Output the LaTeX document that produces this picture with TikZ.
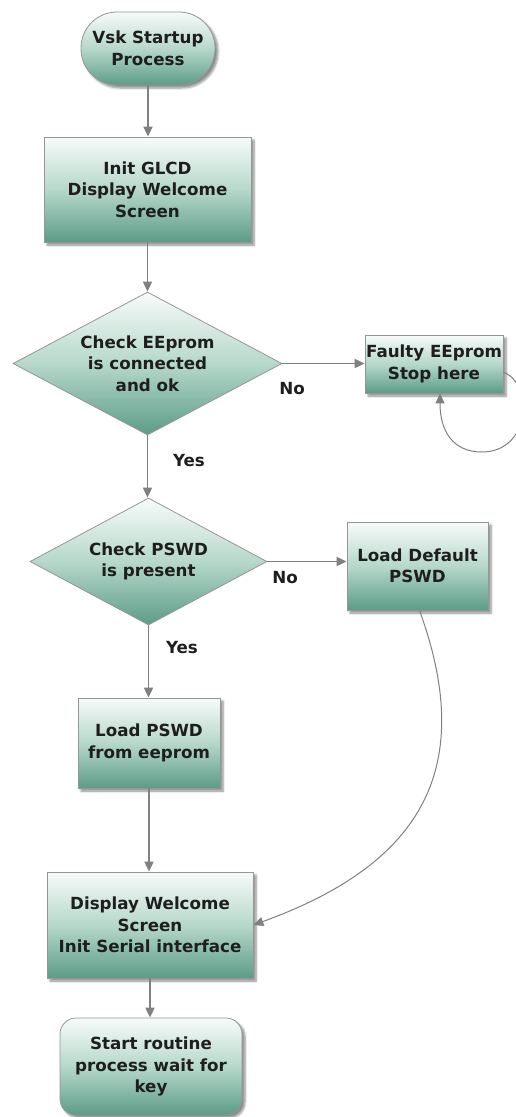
\documentclass[tikz,border=0pt]{standalone}
\usepackage{fontspec}
\setmainfont{DejaVu Sans}
\usetikzlibrary{shapes.geometric,arrows.meta,shadows.blur,calc}
\definecolor{topc}{RGB}{247,251,249}
\definecolor{midc}{RGB}{182,216,203}
\definecolor{botc}{RGB}{92,156,135}
\definecolor{bord}{RGB}{150,150,150}
\definecolor{linec}{RGB}{128,128,128}
\definecolor{txt}{RGB}{30,30,30}
\begin{document}
\begin{tikzpicture}[x=1pt,y=1pt,
  every node/.style={font=\fontsize{16.7}{21.5}\selectfont\bfseries, text=txt, align=center, inner sep=0pt},
  fillshade/.style={top color=topc, bottom color=botc, middle color=midc},
  box/.style={rectangle, draw=bord, line width=0.8pt, fillshade,
    blur shadow={shadow xshift=3pt, shadow yshift=-3pt, shadow blur steps=6, shadow opacity=45}},
  term/.style={box, rounded corners=36pt},
  termb/.style={box, rounded corners=16pt},
  dec/.style={diamond, aspect=1.88, draw=bord, line width=0.8pt, fillshade},
  lbl/.style={},
  conn/.style={draw=linec, line width=1.8pt, -{Triangle[length=10pt,width=9pt]}},
  curv/.style={draw=linec, line width=1pt, -{Triangle[length=10pt,width=9pt]}}]
\useasboundingbox (0,0) rectangle (516,-1117);

\node[term, minimum width=134pt, minimum height=73pt] (start) at (148,-48.5) {Vsk Startup\\Process};
\node[box, minimum width=207pt, minimum height=105pt] (glcd) at (147.5,-189.5) {Init GLCD\\Display Welcome\\Screen};
\node[dec, minimum width=269pt, minimum height=143pt] (d1) at (147.5,-363.5) {Check EEprom\\is connected\\and ok};
\node[box, minimum width=138pt, minimum height=58pt] (faulty) at (434,-364) {Faulty EEprom\\Stop here};
\node[dec, minimum width=237pt, minimum height=127pt] (d2) at (148.5,-561.5) {Check PSWD\\is present};
\node[box, minimum width=141pt, minimum height=88pt] (ldef) at (417.5,-566) {Load Default\\PSWD};
\node[box, minimum width=142pt, minimum height=90pt] (lee) at (149,-743) {Load PSWD\\from eeprom};
\node[box, minimum width=206pt, minimum height=106pt] (disp) at (150,-925) {Display Welcome\\Screen\\Init Serial interface};
\node[termb, minimum width=182pt, minimum height=97pt] (final) at (151,-1066.5) {Start routine\\process wait for\\key};

\node[lbl] (no1) at (292,-389) {No};
\node[lbl] (yes1) at (189,-461) {Yes};
\node[lbl] (no2) at (285,-578) {No};
\node[lbl] (yes2) at (182,-648) {Yes};

\draw[conn] (start.south) -- (start.south |- glcd.north);
\draw[conn] (glcd.south) -- (glcd.south |- d1.north);
\draw[conn] (d1.east) -- (d1.east -| faulty.west);
\draw[conn] (d1.south) -- (d1.south |- d2.north);
\draw[conn] (d2.east) -- (d2.east -| ldef.west);
\draw[conn] (d2.south) -- (d2.south |- lee.north);
\draw[conn] (lee.south) -- (lee.south |- disp.north);
\draw[conn] (disp.south) -- (disp.south |- final.north);
\draw[curv] ($(ldef.south)+(2,0)$) to[out=-70, in=20, looseness=1.25] (disp.east);
\draw[curv] ($(faulty.east)+(0,-8)$) .. controls (535,-385) and (530,-452) .. (482,-452)
   .. controls (452,-452) and (440,-430) .. ($(faulty.south)+(6,0)$);
\end{tikzpicture}
\end{document}
